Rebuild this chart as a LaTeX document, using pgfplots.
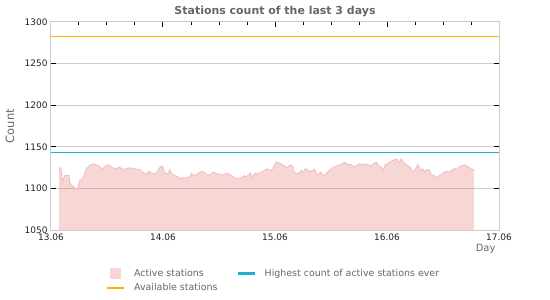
\documentclass[border=0pt]{standalone}
\usepackage{pgfplots}
\pgfplotsset{compat=1.18}
\usepackage{pgfplotstable}
\usepackage{fontspec}
\setmainfont{DejaVu Sans}
\definecolor{areafill}{RGB}{247,214,214}
\definecolor{areaedge}{RGB}{240,190,190}
\definecolor{gridunder}{RGB}{209,177,177}
\definecolor{framegray}{RGB}{204,204,204}
\definecolor{hiblue}{RGB}{28,176,212}
\definecolor{availorange}{RGB}{255,176,0}
\definecolor{txtgray}{RGB}{102,102,102}
\definecolor{ticktxt}{RGB}{34,34,34}

\pgfplotstableread{
h v
1.7 1125.6
1.9 1124
2.2 1123
2.4 1106
2.6 1111.6
3.0 1115.6
3.9 1115.6
4.0 1107.6
4.2 1105.6
4.5 1103.6
4.9 1101.6
5.4 1099.6
5.7 1099
5.9 1104
6.2 1109.6
6.8 1111.6
7.2 1117.6
7.6 1124.4
8.0 1125.6
8.5 1128.4
9.0 1129.6
9.6 1128.4
10.3 1126.8
10.9 1123.6
11.5 1125.6
12.0 1128.4
12.6 1127.6
13.3 1124.4
14.0 1123.6
14.7 1125.6
15.4 1122.8
16.1 1123.6
16.9 1124.8
18.0 1123.6
19.0 1122.8
19.7 1119.6
20.4 1116.4
20.9 1120.8
21.5 1118.8
22.4 1117.6
22.9 1121.6
23.4 1126
23.9 1126.8
24.2 1121.6
24.6 1117.6
25.1 1118.4
25.4 1122.4
25.8 1118.4
26.2 1116.4
26.8 1114.8
27.4 1113.6
27.8 1111.6
28.2 1112.8
28.8 1112.4
29.4 1113.6
29.7 1113.6
30.1 1118.4
30.6 1114.8
31.2 1116.8
31.9 1119.6
32.5 1120.4
33.0 1118.4
33.6 1115.6
34.2 1116.8
34.8 1119.6
35.6 1117.6
36.5 1116.4
36.9 1116.4
37.6 1118.4
38.1 1117.2
38.7 1115.6
39.1 1113.6
39.6 1112.4
40.3 1111.6
41.0 1113.6
41.4 1115.6
41.8 1113.6
42.3 1116.4
42.7 1118.4
43.1 1113.6
43.6 1116.8
43.9 1118.8
44.3 1116.8
44.7 1118.4
45.1 1119.6
45.7 1121.6
46.4 1123.6
47.1 1120.8
47.7 1125.6
48.2 1131.6
48.9 1130.8
49.6 1128.4
50.1 1126.8
50.5 1124.4
50.9 1126.8
51.3 1128.4
51.8 1126.8
52.1 1119.6
53.0 1117.6
53.6 1121.6
54.1 1119.6
54.5 1123.6
55.1 1122.4
55.5 1119.6
56.0 1121.6
56.5 1122.8
56.9 1117.6
57.3 1116.4
57.8 1119.6
58.4 1114.8
58.9 1117.6
59.6 1121.6
60.3 1124.8
61.4 1127.6
62.2 1128.8
62.9 1131.6
63.6 1128.8
64.4 1128.4
65.1 1125.6
66.0 1129.6
66.9 1128.4
67.7 1129.6
68.4 1126.8
69.1 1129.6
69.7 1131.6
70.2 1127.6
70.8 1125.6
71.2 1121.6
71.6 1128.4
72.2 1130
72.7 1132.4
73.3 1133.6
73.9 1135.6
74.3 1133.6
74.7 1130.8
75.0 1135.6
75.6 1130.8
76.4 1127.6
77.0 1125.6
77.4 1120.4
77.9 1121.6
78.3 1125.6
78.6 1128.4
79.0 1124.4
79.3 1121.6
79.7 1123.6
80.0 1119.6
80.4 1122.4
81.1 1122.4
81.4 1116.4
82.0 1115.6
82.6 1113.6
82.9 1112.4
83.3 1116.4
83.8 1116.4
84.1 1119.6
84.9 1120.4
85.4 1119.6
86.3 1123.6
87.0 1123.6
87.7 1126.8
88.6 1128.4
89.1 1127.6
89.7 1124.4
90.3 1122.8
90.6 1122.8
}\activedata

\pgfplotstableread{
h v
1.7 1100
90.6 1100
}\gridunderdata

\pgfplotstableread{
h v
0 1143
96 1143
}\highestdata

\pgfplotstableread{
h v
0 1283
96 1283
}\availdata

\begin{document}
\begin{tikzpicture}
\begin{axis}[name=ax, scale only axis, width=448bp, height=208bp,
  xmin=0, xmax=96, ymin=1050, ymax=1300,
  xtick={0,24,48,72,96}, xticklabels={13.06,14.06,15.06,16.06,17.06},
  minor xtick={6,12,18,30,36,42,54,60,66,78,84,90},
  ytick={1050,1100,1150,1200,1250,1300},
  ymajorgrids, grid style={framegray, line width=1bp},
  axis line style={framegray, line width=1bp},
  tick align=inside, tick style={black, line width=1bp},
  major tick length=5bp, minor tick length=3bp,
  /pgf/number format/assume math mode=true,
  /pgf/number format/1000 sep={},
  ticklabel style={font=\fontsize{9}{10}\selectfont, text=ticktxt},
  title={Stations count of the last 3 days},
  title style={font=\bfseries\fontsize{11}{13}\selectfont, text=txtgray,
    at={(axis description cs:0.5,1)}, anchor=base, yshift=2bp, inner sep=0pt},
  ylabel={Count},
  ylabel style={font=\fontsize{11.5}{13}\selectfont, text=txtgray, at={(axis description cs:-0.0915,0.5)}, anchor=center},
  xlabel={Day},
  xlabel style={font=\fontsize{10}{12}\selectfont, text=txtgray, at={(axis description cs:1,-0.05)}, anchor=north east},
  legend columns=2, legend cell align=left,
  legend style={draw=none, fill=none, at={(axis description cs:0.1155,-0.168)}, anchor=north west,
    font=\fontsize{9.5}{11}\selectfont,
    /tikz/every odd column/.append style={column sep=7bp},
    /tikz/every even column/.append style={column sep=17bp}, row sep=2bp},
]
\addplot[draw=none, fill=areafill,
  legend image code/.code={\fill[fill=areafill] (3bp,-5.5bp) rectangle (14bp,5.5bp);}]
  table[x=h, y=v] {\activedata} \closedcycle;
\addlegendentry{\textcolor{txtgray}{Active stations}}
\addplot[forget plot, gridunder, line width=1bp] table[x=h, y=v] {\gridunderdata};
\addplot[forget plot, areaedge, line width=0.8bp] table[x=h, y=v] {\activedata};
\addplot[draw=hiblue, line width=1.4bp,
  legend image code/.code={\draw[draw=hiblue, line width=2.2bp] (0bp,0bp) -- (17bp,0bp);}]
  table[x=h, y=v] {\highestdata};
\addlegendentry{\textcolor{txtgray}{Highest count of active stations ever}}
\addplot[draw=availorange, line width=1bp,
  legend image code/.code={\draw[draw=availorange, line width=2.2bp] (0bp,0bp) -- (17bp,0bp);}]
  table[x=h, y=v] {\availdata};
\addlegendentry{\textcolor{txtgray}{Available stations}}
\end{axis}
\path (ax.south west) ++(-51bp,-70bp) coordinate (bl);
\path (ax.north east) ++(51bp,22bp) coordinate (tr);
\path (bl) rectangle (tr);
\end{tikzpicture}
\end{document}
